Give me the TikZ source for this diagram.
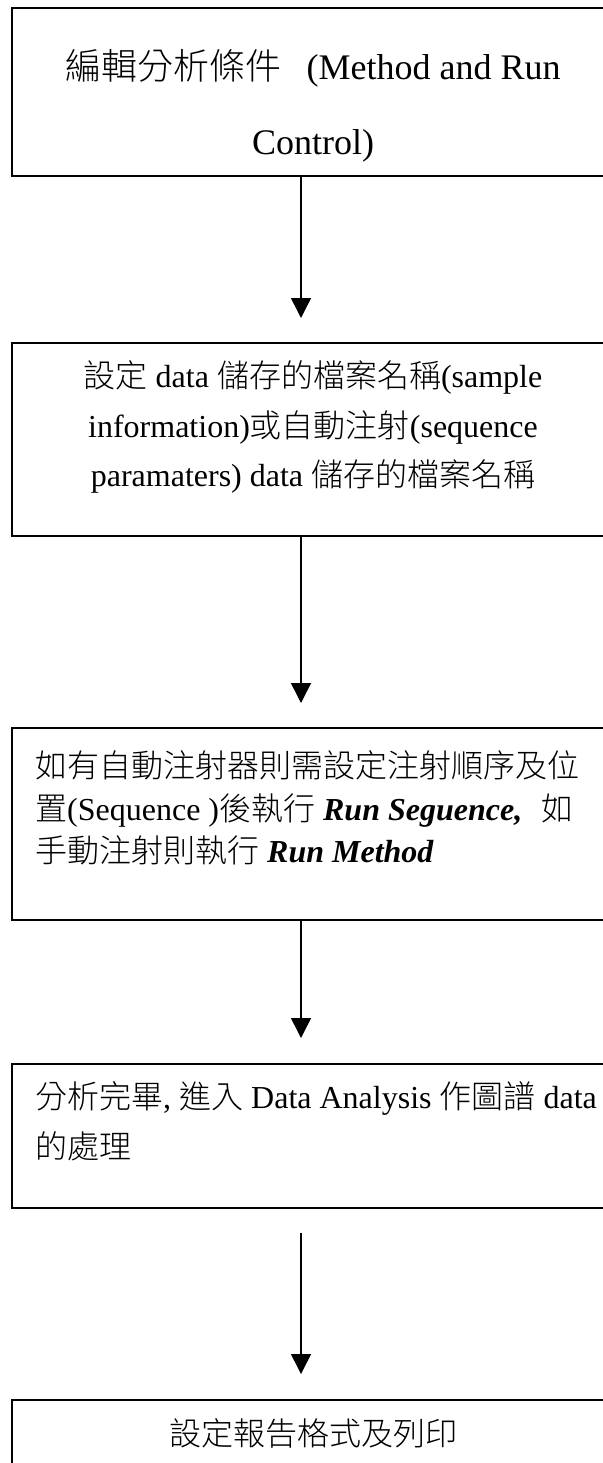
\documentclass[tikz,border=0pt]{standalone}
\usepackage{fontspec}
\setmainfont{Liberation Serif}
\newfontfamily\cjk{Noto Sans CJK TC}[UprightFont={* Light}]
\usetikzlibrary{arrows.meta}
\newcommand\ck[1]{{\cjk #1}}
\begin{document}
\begin{tikzpicture}[x=1pt,y=-1pt,
  box/.style={draw, line width=1.6pt, minimum width=602pt, inner sep=0pt, anchor=north},
  ltxt/.style={anchor=base west, inner sep=0pt, font=\fontsize{32}{32}\selectfont},
  ctxt/.style={anchor=base, inner sep=0pt, font=\fontsize{32}{32}\selectfont},
  arr/.style={line width=1.5pt, -{Triangle[width=20pt,length=20pt]}}]
\useasboundingbox[fill=white] (0,0) rectangle (602,1463);
\coordinate (ax) at (301,0);
% boxes
\node[box, minimum height=168pt] (b1) at (313,7) {};
\node[box, minimum height=193pt] (b2) at (313,342) {};
\node[box, minimum height=192pt] (b3) at (313,727) {};
\node[box, minimum height=144pt] (b4) at (313,1063) {};
\node[box, minimum height=90pt] (b5) at (313,1399) {};
% texts
\node[ctxt, font=\fontsize{36}{36}\selectfont] (t1a) at (313,80) {\ck{編輯分析條件}\hspace{0.7em}(Method and Run};
\node[ctxt, font=\fontsize{36}{36}\selectfont] (t1b) at (313,155) {Control)};
\node[ctxt] (t2a) at (313,387) {\ck{設定} data \ck{儲存的檔案名稱}(sample};
\node[ctxt] (t2b) at (313,437) {information)\ck{或自動注射}(sequence};
\node[ctxt] (t2c) at (313,486) {paramaters) data \ck{儲存的檔案名稱}};
\node[ltxt] (t3a) at (35,777) {\ck{如有自動注射器則需設定注射順序及位}};
\node[ltxt] (t3b) at (35,820) {\ck{置}(Sequence )\ck{後執行} \textbf{\textit{Run Seguence,}}\hspace{0.6em}\ck{如}};
\node[ltxt] (t3c) at (35,862) {\ck{手動注射則執行} \textbf{\textit{Run Method}}};
\node[ltxt] (t4a) at (35,1108) {\ck{分析完畢}, \ck{進入} Data Analysis \ck{作圖譜} data};
\node[ltxt] (t4b) at (35,1158) {\ck{的處理}};
\node[ctxt] (t5a) at (313,1445) {\ck{設定報告格式及列印}};
% arrows
\draw[arr, shorten >=24pt] (b1.south -| ax) -- (b2.north -| ax);
\draw[arr, shorten >=24pt] (b2.south -| ax) -- (b3.north -| ax);
\draw[arr, shorten >=25pt] (b3.south -| ax) -- (b4.north -| ax);
\draw[arr, shorten <=24pt, shorten >=25pt] (b4.south -| ax) -- (b5.north -| ax);
\end{tikzpicture}
\end{document}
